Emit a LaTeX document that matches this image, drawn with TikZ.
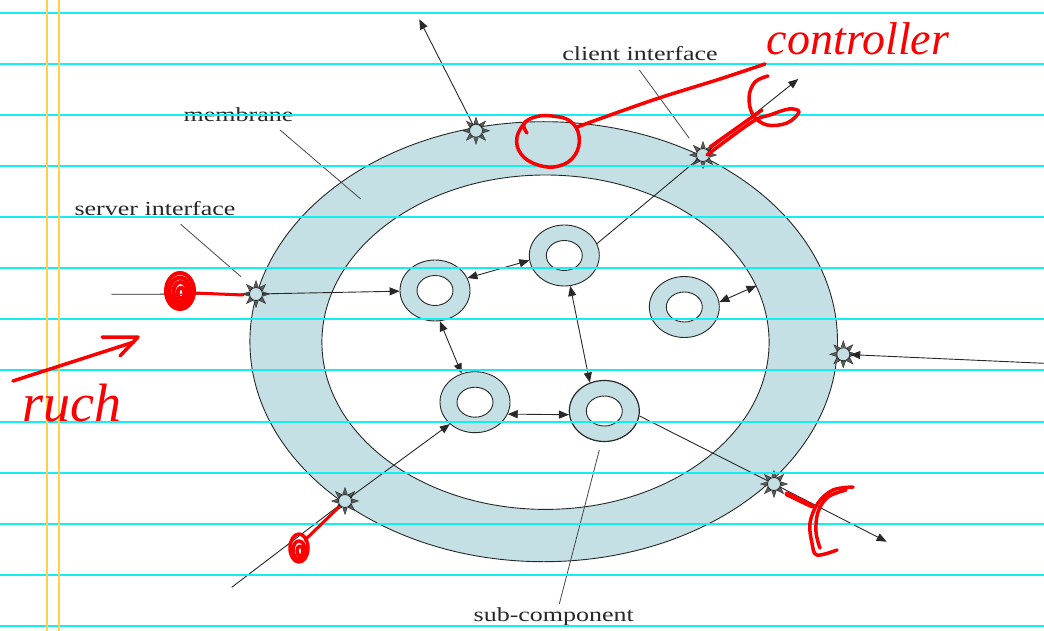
\documentclass[tikz,border=0pt]{standalone}
\usepackage{fontspec}
\usepackage{graphicx}
\setmainfont{Liberation Serif}
\usetikzlibrary{arrows.meta,shapes.geometric,calc}
\definecolor{ringblue}{RGB}{196,224,229}
\definecolor{ink}{RGB}{40,40,40}
\definecolor{rulecyan}{RGB}{20,238,242}
\definecolor{margingold}{RGB}{255,208,76}
\definecolor{penred}{RGB}{250,0,0}
\newcommand{\widetext}[1]{\scalebox{1.3}[1]{#1}}
\begin{document}
\begin{tikzpicture}[x=1pt,y=-1pt,
  conn/.style={draw=ink, line width=0.9pt},
  arr/.style={conn, -{Triangle[length=10pt,width=8pt]}},
  darr/.style={conn, {Triangle[length=10pt,width=8pt]}-{Triangle[length=10pt,width=8pt]}},
  pointer/.style={draw=ink!85, line width=0.8pt},
  sub/.style={ellipse, draw=ink, line width=0.9pt, fill=ringblue,
    minimum width=70pt, minimum height=61pt, inner sep=0pt,
    path picture={\draw[ink, line width=0.9pt, fill=white]
      (path picture bounding box.center) ellipse [x radius=18pt, y radius=15pt];}},
  iface/.style={circle, draw=ink, line width=0.8pt, fill=ringblue,
    minimum size=13pt, inner sep=0pt},
  spike/.style={fill=ink!75, draw=ink, line width=0.4pt},
  lbl/.style={text=ink, font=\fontsize{20}{24}\selectfont, inner sep=0pt, anchor=base},
  pen/.style={draw=penred, line width=3.5pt, line cap=round, line join=round},
  hand/.style={text=penred, inner sep=0pt, anchor=base},
  ruleline/.style={draw=rulecyan, line width=2pt},
  marginline/.style={draw=margingold, line width=2pt},
]
% page
\fill[white] (0,0) rectangle (1044,631);
\useasboundingbox (0,0) rectangle (1044,631);

% membrane ring and content area
\node[ellipse, draw=ink, line width=0.9pt, fill=ringblue, minimum width=587.6pt,
  minimum height=440pt, inner sep=0pt] (membrane) at (543.7,341.7) {};
\node[ellipse, draw=ink, line width=0.9pt, fill=white, minimum width=447.2pt,
  minimum height=334.4pt, inner sep=0pt] (core) at (545.5,342.2) {};

% sub-components
\node[sub] (A) at (435,290.5) {};
\node[sub] (B) at (564.3,255.5) {};
\node[sub] (C) at (684.3,307) {};
\node[sub] (D) at (475,402.2) {};
\node[sub, line width=1.2pt] (E) at (604.3,411) {};

% interfaces on the membrane
\node[iface] (s1) at (476,130.7) {};
\node[iface] (s2) at (703,155) {};
\node[iface] (s3) at (256,294) {};
\node[iface] (s4) at (843.3,354.3) {};
\node[iface] (s5) at (345,501) {};
\node[iface] (s6) at (774,484) {};
\foreach \n in {s1,s2,s3,s4,s5,s6}{
  \foreach \a in {0,45,...,315}{
    \filldraw[spike] ($(\n.center)+(\a:13.5)$) -- ($(\n.center)+(\a+18:7.2)$)
      -- ($(\n.center)+(\a-18:7.2)$) -- cycle;
  }
}

% free ends of the outer bindings
\coordinate (t1) at (419.3,19.3);
\coordinate (t2) at (798.3,79);
\coordinate (in3) at (111.7,294.3);
\coordinate (in4) at (1044,363.3);
\coordinate (in5) at (231.7,587.3);
\coordinate (t6) at (886.7,541.7);

% bindings
\draw[arr] (s1) -- (t1);
\draw[conn] (in3) -- (s3);
\draw[arr] (s3) -- (A);
\draw[darr] (A.21) -- (B.188);
\draw[darr] (A.-81) -- (D.115);
\draw[darr] (B.-79) -- (E.117);
\draw[darr] (D.-20) -- (E.186);
\draw[darr] (C.8) -- (core.15);
\draw[conn] (B.20) -- (s2);
\draw[arr] (s2) -- (t2);
\draw[conn] (in5) -- (s5);
\draw[arr] (s5) -- (D.221);
\draw[conn] (E.-8) -- (s6);
\draw[arr] (s6) -- (t6);
\draw[arr] (in4) -- (s4);

% labels and their pointers
\node[lbl] (lmem) at (238.5,121.7) {\widetext{membrane}};
\node[lbl] (lsrv) at (155,215.7) {\widetext{server interface}};
\node[lbl] (lcli) at (640,61) {\widetext{client interface}};
\node[lbl] (lsub) at (553.8,621.7) {\widetext{sub-component}};
\coordinate (pm0) at (280,130);   \coordinate (pm1) at (360.7,199);
\coordinate (ps0) at (180.7,224.3); \coordinate (ps1) at (241,276.7);
\coordinate (pc0) at (639.3,70);  \coordinate (pc1) at (689.3,138.3);
\coordinate (pu0) at (599.3,450); \coordinate (pu1) at (559.3,604);
\draw[pointer] (pm0) -- (pm1);
\draw[pointer] (ps0) -- (ps1);
\draw[pointer] (pc0) -- (pc1);
\draw[pointer] (pu0) -- (pu1);

% ruled paper
\foreach \y in {13,64,115,166,217,268,319,370,422,473,524,575,626}{
  \draw[ruleline] (0,\y) -- (1044,\y);
}
\draw[marginline] (47,0) -- (47,631);
\draw[marginline] (59,0) -- (59,631);

% red pen notes
\draw[pen] plot[smooth, tension=0.7] coordinates {(527,133) (524,124) (535,117) (552,116)
  (570,121) (579,136) (575,155) (559,166) (538,165) (521,154) (517,137) (526,121)};
\draw[pen] plot[smooth] coordinates {(577,127) (653,100) (720,79) (765,64)};
\node[hand, font=\fontsize{46}{50}\selectfont\itshape] (ctl) at (858,55) {controller};
\draw[pen] plot[smooth, tension=0.6] coordinates {(768,76) (755,82) (749,97) (753,115)
  (767,125) (787,123) (799,112) (789,109) (770,115) (752,122) (707,155)};
\draw[pen] (710,147) -- (762,110);

\draw[pen, line width=4pt] (180,291) ellipse [x radius=14, y radius=18];
\draw[pen, line width=4pt] (180,291.5) ellipse [x radius=10.5, y radius=14];
\draw[pen, line width=4pt] (180.5,292) ellipse [x radius=7, y radius=10];
\draw[pen, line width=4pt] (181,293) ellipse [x radius=3.5, y radius=5.5];
\draw[pen, line width=3pt] (195,293) -- (243,295);

\draw[pen] (13,381) -- (134,342);
\draw[pen] (102,337) -- (138,337) -- (120,356);
\node[hand, font=\fontsize{54}{58}\selectfont\itshape] (note) at (72,421) {ruch};

\draw[pen] (299,548) ellipse [x radius=9, y radius=14];
\draw[pen] (299,550) ellipse [x radius=6, y radius=9];
\draw[pen] (300,551) ellipse [x radius=3, y radius=5];
\draw[pen, line width=3pt] (305,540) -- (339,507);

\draw[pen, line width=5pt] (787,494) -- (812,506);
\draw[pen] plot[smooth, tension=0.6] coordinates {(853,487) (833,490) (818,503)
  (810,523) (812,543) (817,555) (837,550)};
\draw[pen] plot[smooth, tension=0.6] coordinates {(846,490) (828,497) (818,512)
  (816,532) (820,548)};
\end{tikzpicture}
\end{document}
